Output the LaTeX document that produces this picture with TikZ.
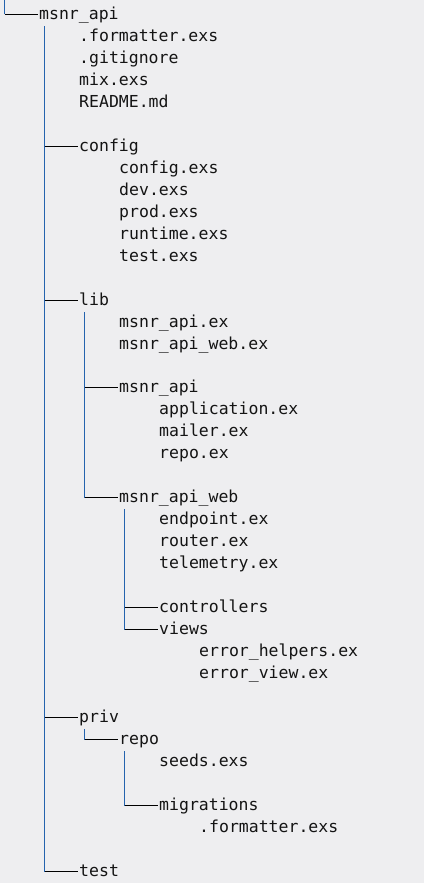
\documentclass[tikz,border=0pt]{standalone}
\usepackage{fontspec}
\setmonofont{DejaVu Sans Mono}
\definecolor{bgc}{HTML}{EEEEF0}
\definecolor{vblue}{HTML}{2463AE}
\definecolor{txt}{HTML}{141414}
\begin{document}
\begin{tikzpicture}[x=1pt,y=-1pt,
  item/.style={anchor=west,inner sep=0pt,text height=10pt,text depth=0pt,
    font=\ttfamily\fontsize{16.5}{20}\selectfont,text=txt},
  vl/.style={draw=vblue,line width=1.3pt},
  hl/.style={draw=black,line width=1pt}]
\fill[bgc] (0,0) rectangle (424,883);
\useasboundingbox (0,0) rectangle (424,883);
\def\R#1{{round(14+21.97*#1)+0.5}}
% level 0
\node[item] (root) at (39,\R{0}) {msnr\_api};
% level 1
\node[item] (fmt) at (79,\R{1}) {.formatter.exs};
\node[item] (git) at (79,\R{2}) {.gitignore};
\node[item] (mix) at (79,\R{3}) {mix.exs};
\node[item] (readme) at (79,\R{4}) {README.md};
\node[item] (config) at (79,\R{6}) {config};
\node[item] (cconfig) at (119,\R{7}) {config.exs};
\node[item] (cdev) at (119,\R{8}) {dev.exs};
\node[item] (cprod) at (119,\R{9}) {prod.exs};
\node[item] (cruntime) at (119,\R{10}) {runtime.exs};
\node[item] (ctest) at (119,\R{11}) {test.exs};
\node[item] (lib) at (79,\R{13}) {lib};
\node[item] (lapi) at (119,\R{14}) {msnr\_api.ex};
\node[item] (lweb) at (119,\R{15}) {msnr\_api\_web.ex};
\node[item] (api) at (119,\R{17}) {msnr\_api};
\node[item] (app) at (159,\R{18}) {application.ex};
\node[item] (mailer) at (159,\R{19}) {mailer.ex};
\node[item] (repoex) at (159,\R{20}) {repo.ex};
\node[item] (web) at (119,\R{22}) {msnr\_api\_web};
\node[item] (endp) at (159,\R{23}) {endpoint.ex};
\node[item] (router) at (159,\R{24}) {router.ex};
\node[item] (telem) at (159,\R{25}) {telemetry.ex};
\node[item] (ctrl) at (159,\R{27}) {controllers};
\node[item] (views) at (159,\R{28}) {views};
\node[item] (errh) at (199,\R{29}) {error\_helpers.ex};
\node[item] (errv) at (199,\R{30}) {error\_view.ex};
\node[item] (priv) at (79,\R{32}) {priv};
\node[item] (repo) at (119,\R{33}) {repo};
\node[item] (seeds) at (159,\R{34}) {seeds.exs};
\node[item] (migr) at (159,\R{36}) {migrations};
\node[item] (mfmt) at (199,\R{37}) {.formatter.exs};
\node[item] (test) at (79,\R{39}) {test};
% connectors
\coordinate (c0) at (4.5,0);
\draw[vl] (c0) -- (c0 |- root.west);
\draw[hl] (c0 |- root.west) -- ([xshift=-1pt]root.west);

\coordinate (v0) at ([xshift=5.5pt,yshift=-6.5pt]root.south west);
\draw[vl] (v0) -- (v0 |- test.west);
\foreach \c in {config,lib,priv,test}
  \draw[hl] (v0 |- \c.west) -- ([xshift=-1pt]\c.west);

\coordinate (v1) at ([xshift=5.5pt,yshift=-6.5pt]lib.south west);
\draw[vl] (v1) -- (v1 |- web.west);
\foreach \c in {api,web}
  \draw[hl] (v1 |- \c.west) -- ([xshift=-1pt]\c.west);

\coordinate (v2) at ([xshift=5.5pt,yshift=-6.5pt]web.south west);
\draw[vl] (v2) -- (v2 |- views.west);
\foreach \c in {ctrl,views}
  \draw[hl] (v2 |- \c.west) -- ([xshift=-1pt]\c.west);

\coordinate (v3) at ([xshift=5.5pt,yshift=-6.5pt]priv.south west);
\draw[vl] (v3) -- (v3 |- repo.west);
\draw[hl] (v3 |- repo.west) -- ([xshift=-1pt]repo.west);

\coordinate (v4) at ([xshift=5.5pt,yshift=-6.5pt]repo.south west);
\draw[vl] (v4) -- (v4 |- migr.west);
\draw[hl] (v4 |- migr.west) -- ([xshift=-1pt]migr.west);
\end{tikzpicture}
\end{document}
